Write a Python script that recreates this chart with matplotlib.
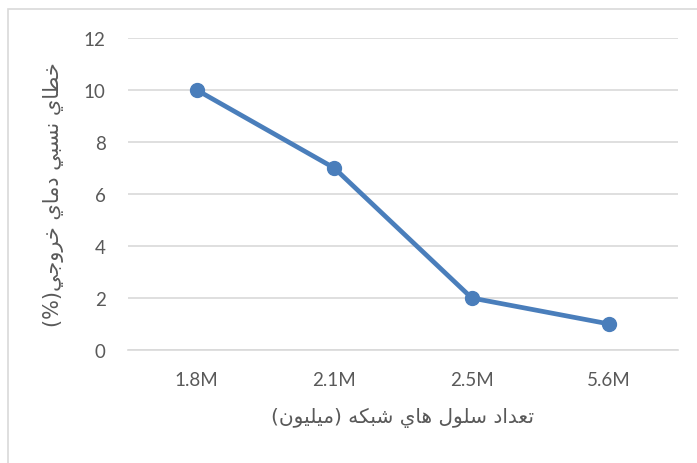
import matplotlib
matplotlib.use("Agg")
import matplotlib.pyplot as plt
from matplotlib.patches import Rectangle

categories = ["1.8M", "2.1M", "2.5M", "5.6M"]
values = [10, 7, 2, 1]
yticks = [0, 2, 4, 6, 8, 10, 12]
xlabel_text = "تعداد سلول هاي شبكه (ميليون)"
ylabel_text = "خطاي نسبي دماي خروجي(%)"

# Minimal Arabic shaping (presentation forms) + visual reordering
FORMS = {
    "ا": ("\uFE8D", "\uFE8E", None, None),
    "ب": ("\uFE8F", "\uFE90", "\uFE91", "\uFE92"),
    "ت": ("\uFE95", "\uFE96", "\uFE97", "\uFE98"),
    "ج": ("\uFE9D", "\uFE9E", "\uFE9F", "\uFEA0"),
    "خ": ("\uFEA5", "\uFEA6", "\uFEA7", "\uFEA8"),
    "د": ("\uFEA9", "\uFEAA", None, None),
    "ر": ("\uFEAD", "\uFEAE", None, None),
    "س": ("\uFEB1", "\uFEB2", "\uFEB3", "\uFEB4"),
    "ش": ("\uFEB5", "\uFEB6", "\uFEB7", "\uFEB8"),
    "ط": ("\uFEC1", "\uFEC2", "\uFEC3", "\uFEC4"),
    "ع": ("\uFEC9", "\uFECA", "\uFECB", "\uFECC"),
    "ك": ("\uFED9", "\uFEDA", "\uFEDB", "\uFEDC"),
    "ل": ("\uFEDD", "\uFEDE", "\uFEDF", "\uFEE0"),
    "م": ("\uFEE1", "\uFEE2", "\uFEE3", "\uFEE4"),
    "ن": ("\uFEE5", "\uFEE6", "\uFEE7", "\uFEE8"),
    "ه": ("\uFEE9", "\uFEEA", "\uFEEB", "\uFEEC"),
    "و": ("\uFEED", "\uFEEE", None, None),
    "ي": ("\uFEF1", "\uFEF2", "\uFEF3", "\uFEF4"),
}


def dual(c):
    return c in FORMS and FORMS[c][2] is not None


def shape(s):
    out = []
    for i, c in enumerate(s):
        if c not in FORMS:
            out.append(c)
            continue
        prev_c = s[i - 1] if i > 0 else ""
        next_c = s[i + 1] if i + 1 < len(s) else ""
        p = dual(prev_c)
        n = dual(c) and next_c in FORMS
        iso, fin, ini, med = FORMS[c]
        if p and n:
            out.append(med)
        elif p:
            out.append(fin)
        elif n:
            out.append(ini)
        else:
            out.append(iso)
    vis = "".join(reversed(out))
    vis = vis.translate(str.maketrans({"(": ")", ")": "("}))
    return vis


W, H = 697, 464
fig = plt.figure(figsize=(W / 100, H / 100), dpi=100)
fig.patch.set_facecolor("white")
fig.add_artist(Rectangle((8 / W, -0.1), 1.2, 1 - 10 / H + 0.1, transform=fig.transFigure,
                         fill=False, edgecolor="#d9d9d9", linewidth=1.2))

ax = fig.add_axes([128 / W, 1 - 351 / H, 550 / W, (351 - 39) / H])
x = list(range(len(categories)))
ax.plot(x, values, color="#4a7ebb", linewidth=3.4, marker="o", markersize=10,
        solid_capstyle="round", zorder=3)
ax.set_xlim(-0.5, len(categories) - 0.5)
ax.set_ylim(0, 12)
ax.set_yticks(yticks)
ax.set_xticks(x)
ax.set_xticklabels(categories)
ax.grid(axis="y", color="#d9d9d9", linewidth=1.2)
ax.set_axisbelow(True)
for s in ["top", "right", "left"]:
    ax.spines[s].set_visible(False)
ax.spines["bottom"].set_color("#d9d9d9")
ax.spines["bottom"].set_linewidth(1.2)
ax.tick_params(length=0, labelsize=13.5, colors="#595959")
ax.tick_params(axis="y", pad=16)
ax.tick_params(axis="x", pad=15)
for lab in ax.get_xticklabels() + ax.get_yticklabels():
    lab.set_family(["Lato", "DejaVu Sans"])

ax.set_xlabel(shape(xlabel_text), fontsize=14.5, color="#595959", family="DejaVu Sans", labelpad=14)
ax.set_ylabel(shape(ylabel_text), fontsize=15, color="#595959", family="DejaVu Sans", labelpad=14)

fig.savefig("out.png", dpi=100, facecolor="white")
